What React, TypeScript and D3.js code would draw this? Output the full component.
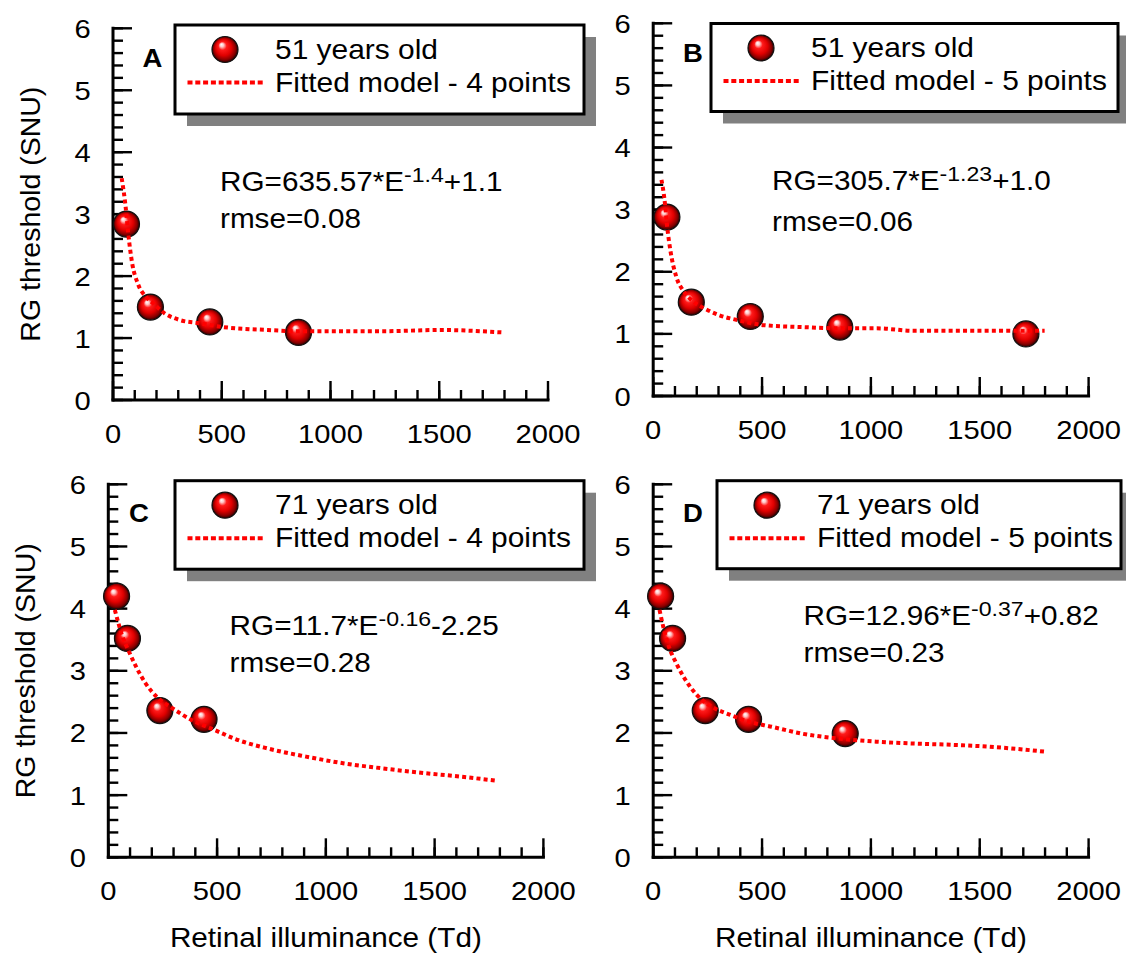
import React from "react";
import * as d3 from "d3";

// tick labels shared by all four panels
const xTickValues = [0, 500, 1000, 1500, 2000];
const yTickValues = [0, 1, 2, 3, 4, 5, 6];

// panel A - 51 years old, 4 points
const aPointX = [62, 172, 445, 853];
const aPointY = [2.84, 1.5, 1.26, 1.09];
const aFitX = [40, 58, 70, 88, 114, 150, 185, 237, 308, 396, 501, 712, 853, 1240, 1504, 1794];
const aFitY = [3.58, 3.12, 2.69, 2.21, 1.88, 1.67, 1.56, 1.4, 1.29, 1.24, 1.18, 1.13, 1.11, 1.11, 1.13, 1.09];

// panel B - 51 years old, 5 points
const bPointX = [63, 175, 446, 857, 1712];
const bPointY = [2.88, 1.51, 1.28, 1.11, 1.0];
const bFitX = [38, 52, 64, 81, 106, 141, 184, 235, 304, 390, 510, 682, 853, 1025, 1197, 1798];
const bFitY = [3.48, 3.16, 2.73, 2.3, 1.92, 1.68, 1.52, 1.41, 1.3, 1.22, 1.14, 1.11, 1.09, 1.09, 1.05, 1.05];

// panel C - 71 years old, 4 points
const cPointX = [38, 88, 237, 440];
const cPointY = [4.2, 3.52, 2.36, 2.22];
const cFitX = [30, 47, 65, 91, 127, 171, 223, 294, 382, 487, 593, 733, 909, 1085, 1261, 1437, 1613, 1789];
const cFitY = [3.98, 3.76, 3.55, 3.34, 3.07, 2.8, 2.58, 2.4, 2.21, 2.05, 1.89, 1.75, 1.62, 1.51, 1.43, 1.36, 1.3, 1.23];

// panel D - 71 years old, 5 points
const dPointX = [34, 89, 239, 438, 882];
const dPointY = [4.2, 3.52, 2.36, 2.22, 1.99];
const dFitX = [29, 46, 72, 106, 149, 201, 270, 355, 441, 544, 682, 853, 1025, 1197, 1369, 1540, 1798];
const dFitY = [3.98, 3.71, 3.39, 3.12, 2.85, 2.61, 2.42, 2.29, 2.18, 2.1, 1.99, 1.91, 1.86, 1.83, 1.81, 1.78, 1.7];

const FONT = "'Liberation Sans', Arial, Helvetica, sans-serif";
const STRETCH = 1.1;

const zip = (xs, ys) => xs.map((v, i) => [v, ys[i]]);

const panels = [
  {
    id: "A", left: 113, right: 548, top: 28.3, bottom: 400,
    points: zip(aPointX, aPointY), fit: zip(aFitX, aFitY),
    legendLabel: "51 years old", fitLabel: "Fitted model - 4 points",
    coef: "635.57", exp: "-1.4", tail: "+1.1", rmse: "0.08",
    box: [175, 25, 409, 89], labelX: 152.5, labelY: 66.7,
    eqX: 220, eqY: 190.7, rmseY: 227.7, yTitle: true, xTitle: false,
  },
  {
    id: "B", left: 653.2, right: 1088.6, top: 23.3, bottom: 396,
    points: zip(bPointX, bPointY), fit: zip(bFitX, bFitY),
    legendLabel: "51 years old", fitLabel: "Fitted model - 5 points",
    coef: "305.7", exp: "-1.23", tail: "+1.0", rmse: "0.06",
    box: [711, 23.5, 407, 88], labelX: 693, labelY: 61.7,
    eqX: 772, eqY: 189.5, rmseY: 231, yTitle: false, xTitle: false,
  },
  {
    id: "C", left: 108.3, right: 543.4, top: 484.3, bottom: 857.3,
    points: zip(cPointX, cPointY), fit: zip(cFitX, cFitY),
    legendLabel: "71 years old", fitLabel: "Fitted model - 4 points",
    coef: "11.7", exp: "-0.16", tail: "-2.25", rmse: "0.28",
    box: [175, 480.7, 409, 88.5], labelX: 139, labelY: 521.7,
    eqX: 229.6, eqY: 635, rmseY: 671.7, yTitle: true, xTitle: true,
  },
  {
    id: "D", left: 653.2, right: 1088.6, top: 484.3, bottom: 857.3,
    points: zip(dPointX, dPointY), fit: zip(dFitX, dFitY),
    legendLabel: "71 years old", fitLabel: "Fitted model - 5 points",
    coef: "12.96", exp: "-0.37", tail: "+0.82", rmse: "0.23",
    box: [717, 480.7, 404, 88], labelX: 693, labelY: 521.7,
    eqX: 803.5, eqY: 625, rmseY: 661.7, yTitle: false, xTitle: true,
  },
];

function Txt({ x, y, size, anchor = "start", weight = "normal", children }) {
  return (
    <text
      transform={`translate(${x},${y}) scale(${STRETCH},1)`}
      fontSize={size}
      fontFamily={FONT}
      fontWeight={weight}
      textAnchor={anchor}
      fill="#000"
    >
      {children}
    </text>
  );
}

function Ball({ cx, cy }) {
  return <circle cx={cx} cy={cy} r={13} fill="url(#ball)" stroke="#111" strokeWidth={1.2} />;
}

function Panel({ p }) {
  const x = d3.scaleLinear().domain([0, 2000]).range([p.left, p.right]);
  const y = d3.scaleLinear().domain([0, 6]).range([p.bottom, p.top]);
  const line = d3
    .line()
    .x((d) => x(d[0]))
    .y((d) => y(d[1]))
    .curve(d3.curveMonotoneX);

  const yMinor = d3.range(0, 6.001, 0.2);
  const xMinor = d3.range(0, 2001, 100);
  const [bx, by, bw, bh] = p.box;

  return (
    <g>
      {/* axes */}
      <line x1={x(0)} x2={x(2000)} y1={y(0)} y2={y(0)} stroke="#000" strokeWidth={3} strokeLinecap="square" />
      <line x1={x(0)} x2={x(0)} y1={y(0)} y2={y(6)} stroke="#000" strokeWidth={3} strokeLinecap="square" />
      {yMinor.map((v, i) => (
        <line key={"ym" + i} x1={x(0)} x2={x(0) + 10} y1={y(v)} y2={y(v)} stroke="#000" strokeWidth={2.4} />
      ))}
      {yTickValues.map((v) => (
        <line key={"yM" + v} x1={x(0)} x2={x(0) + 19} y1={y(v)} y2={y(v)} stroke="#000" strokeWidth={2.4} />
      ))}
      {xMinor.map((v, i) => (
        <line key={"xm" + i} x1={x(v)} x2={x(v)} y1={y(0)} y2={y(0) - 10} stroke="#000" strokeWidth={2.4} />
      ))}
      {xTickValues.map((v) => (
        <line key={"xM" + v} x1={x(v)} x2={x(v)} y1={y(0)} y2={y(0) - 19} stroke="#000" strokeWidth={2.4} />
      ))}
      {yTickValues.map((v) => (
        <Txt key={"yl" + v} x={x(0) - 30.5} y={y(v) + 9.5} size={26.5} anchor="middle">
          {String(v)}
        </Txt>
      ))}
      {xTickValues.map((v) => (
        <Txt key={"xl" + v} x={x(v)} y={y(0) + 43} size={26.5} anchor="middle">
          {String(v)}
        </Txt>
      ))}

      {p.yTitle && (
        <text
          transform={`translate(${p.left - 73},${(p.top + p.bottom) / 2}) rotate(-90)`}
          fontSize={28.5}
          fontFamily={FONT}
          textAnchor="middle"
        >
          RG threshold (SNU)
        </text>
      )}
      {p.xTitle && (
        <Txt x={(p.left + p.right) / 2} y={947} size={27} anchor="middle">
          Retinal illuminance (Td)
        </Txt>
      )}

      <Txt x={p.labelX} y={p.labelY} size={25} anchor="middle" weight="bold">
        {p.id}
      </Txt>

      {/* data */}
      {p.points.map((d, i) => (
        <Ball key={"pt" + i} cx={x(d[0])} cy={y(d[1])} />
      ))}
      <path d={line(p.fit)} fill="none" stroke="#ff0000" strokeWidth={4} strokeDasharray="4,3.2" />

      {/* equation */}
      <text transform={`translate(${p.eqX},${p.eqY}) scale(${STRETCH},1)`} fontSize={27} fontFamily={FONT}>
        <tspan>{`RG=${p.coef}*E`}</tspan>
        <tspan dy={-9} fontSize={21}>{p.exp}</tspan>
        <tspan dy={9}>{p.tail}</tspan>
      </text>
      <Txt x={p.eqX} y={p.rmseY} size={27}>
        {`rmse=${p.rmse}`}
      </Txt>

      {/* legend */}
      <rect x={bx + 12} y={by + 12} width={bw} height={bh} fill="#808080" />
      <rect x={bx} y={by} width={bw} height={bh} fill="#fff" stroke="#000" strokeWidth={3} />
      <Ball cx={bx + 50} cy={by + 24.5} />
      <line
        x1={bx + 12.5}
        x2={bx + 89}
        y1={by + 57.5}
        y2={by + 57.5}
        stroke="#ff0000"
        strokeWidth={4}
        strokeDasharray="5,2.8"
      />
      <Txt x={bx + 100} y={by + 33.5} size={27.2}>
        {p.legendLabel}
      </Txt>
      <Txt x={bx + 100} y={by + 66.5} size={27.2}>
        {p.fitLabel}
      </Txt>
    </g>
  );
}

export default function App() {
  return (
    <svg
      width={1126}
      height={953}
      style={{ position: "absolute", left: 0, top: 0, background: "#fff" }}
    >
      <defs>
        <radialGradient id="ball" cx="0.5" cy="0.5" r="0.5" fx="0.36" fy="0.3">
          <stop offset="0" stopColor="#ffffff" />
          <stop offset="0.14" stopColor="#ffc8c8" />
          <stop offset="0.32" stopColor="#ff1a1a" />
          <stop offset="0.62" stopColor="#e00000" />
          <stop offset="0.85" stopColor="#8a0000" />
          <stop offset="1" stopColor="#2a0000" />
        </radialGradient>
      </defs>
      <rect width={1126} height={953} fill="#fff" />
      {panels.map((p) => (
        <Panel key={p.id} p={p} />
      ))}
    </svg>
  );
}
